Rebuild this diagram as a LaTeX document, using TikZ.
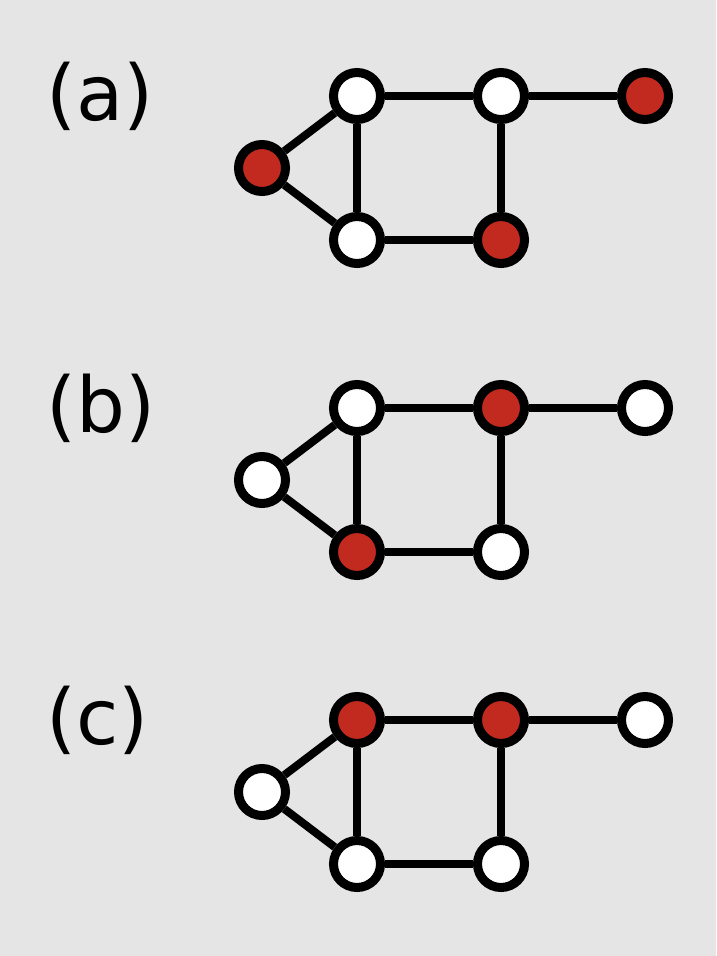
\documentclass[tikz,border=0pt]{standalone}
\usepackage{fontspec}
\setmainfont{DejaVu Sans}
\definecolor{bg}{HTML}{E5E5E5}
\definecolor{vred}{HTML}{C22A1F}
\begin{document}
\begin{tikzpicture}[x=1pt,y=-1pt,
  vtx/.style={circle,draw=black,line width=9pt,minimum size=47pt,inner sep=0pt,fill=white},
  rv/.style={vtx,fill=vred},
  edge/.style={line width=8pt,black},
  lbl/.style={anchor=base west,inner sep=0pt,font=\fontsize{77}{92}\selectfont}]
\fill[bg] (0,0) rectangle (716,956);
\useasboundingbox (0,0) rectangle (716,956);
\foreach \dy/\l/\sA/\sB/\sC/\sD/\sE/\sF in {0/a/rv/vtx/vtx/vtx/rv/rv, 312/b/vtx/vtx/rv/rv/vtx/vtx, 624/c/vtx/rv/vtx/rv/vtx/vtx}{
  \begin{scope}[yshift=-\dy pt]
  \node[lbl] (L\l) at (46,120) {(\l)};
  \node[\sA] (A\l) at (262,168) {};
  \node[\sB] (B\l) at (357,96) {};
  \node[\sC] (C\l) at (357,240) {};
  \node[\sD] (D\l) at (501,96) {};
  \node[\sE] (E\l) at (501,240) {};
  \node[\sF] (F\l) at (645,96) {};
  \end{scope}
}
\foreach \l in {a,b,c}{
  \draw[edge] (A\l) -- (B\l);
  \draw[edge] (A\l) -- (C\l);
  \draw[edge] (B\l) -- (C\l);
  \draw[edge] (B\l) -- (D\l);
  \draw[edge] (C\l) -- (E\l);
  \draw[edge] (D\l) -- (E\l);
  \draw[edge] (D\l) -- (F\l);
}
\end{tikzpicture}
\end{document}
